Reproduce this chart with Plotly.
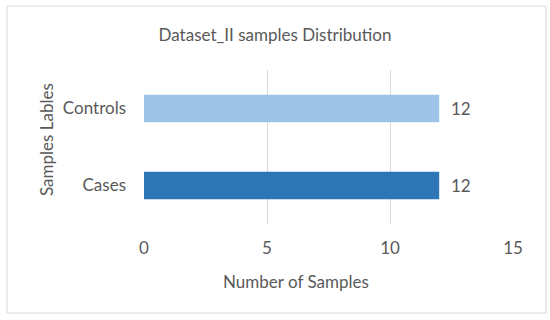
import plotly.graph_objects as go

categories = ["Cases", "Controls"]
values = [12, 12]
colors = ["#2E75B6", "#9DC3E6"]
x_ticks = [0, 5, 10, 15]

W, H = 550, 320
L, R, T, B = 144, 37, 70, 96
FONT = "Lato"
FS = 17
GRAY = "#595959"

fig = go.Figure(go.Bar(
    y=categories, x=values, orientation="h",
    marker=dict(color=colors, line=dict(width=0)),
    text=["\u00a0\u00a0" + str(v) for v in values], textposition="outside",
    textfont=dict(family=FONT, size=FS, color=GRAY),
    cliponaxis=False, width=0.36,
))

PW, PH = W - L - R, H - T - B

fig.update_layout(
    width=W, height=H,
    margin=dict(l=L, r=R, t=T, b=B),
    paper_bgcolor="white", plot_bgcolor="white",
    showlegend=False,
    font=dict(family=FONT, size=FS, color=GRAY),
    title=dict(text="Dataset_II samples Distribution", x=275 / W, xanchor="center",
               y=1 - 35 / H, yanchor="middle", yref="container",
               font=dict(family=FONT, size=FS, color=GRAY)),
    xaxis=dict(range=[0, 15], tickvals=x_ticks, showgrid=True, gridcolor="#D9D9D9", gridwidth=1,
               zeroline=False, showline=False, ticks="", ticklabelstandoff=12,
               tickfont=dict(family=FONT, size=FS, color=GRAY)),
    yaxis=dict(showgrid=False, zeroline=False, showline=False, ticks="", ticklabelstandoff=17,
               tickfont=dict(family=FONT, size=FS, color=GRAY)),
    shapes=[dict(type="rect", xref="paper", yref="paper",
                 x0=(7 - L) / PW, x1=(546 - L) / PW,
                 y0=-(313 - (H - B)) / PH,
                 y1=1 + (T - 6) / PH,
                 line=dict(color="#D9D9D9", width=1), fillcolor="rgba(0,0,0,0)", layer="below")],
    annotations=[
        dict(text="Number of Samples", xref="paper", yref="paper",
             x=(296 - L) / PW, y=-(281 - (H - B)) / PH,
             xanchor="center", yanchor="middle", showarrow=False,
             font=dict(family=FONT, size=FS, color=GRAY)),
        dict(text="Samples Lables", xref="paper", yref="paper", textangle=-90,
             x=-(L - 46) / PW, y=(H - B - 140) / PH,
             xanchor="center", yanchor="middle", showarrow=False,
             font=dict(family=FONT, size=FS, color=GRAY)),
    ],
)

fig.write_html("out.html", config={"displayModeBar": False},
               post_script="document.body.style.margin='0';")
